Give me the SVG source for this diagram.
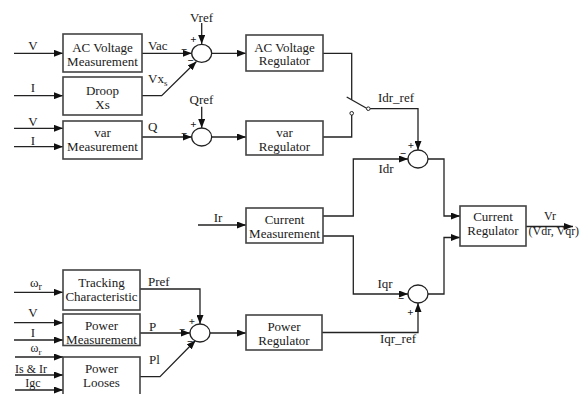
<svg xmlns="http://www.w3.org/2000/svg" width="584" height="394" viewBox="0 0 584 394">
<defs>
<marker id="ah" markerUnits="userSpaceOnUse" markerWidth="9" markerHeight="7" refX="9" refY="3.5" orient="auto">
<path d="M0,0 L9,3.5 L0,7 z" fill="#111"/>
</marker>
<style>
.box{fill:#fff;stroke:#444;stroke-width:1.6}
.ln{fill:none;stroke:#222;stroke-width:1.3}
.ar{fill:none;stroke:#222;stroke-width:1.3;marker-end:url(#ah)}
.sum{fill:#fff;stroke:#222;stroke-width:1.3}
.term{fill:#fff;stroke:#222;stroke-width:1}
text{font-family:"Liberation Serif","Times New Roman",serif;font-size:13px;fill:#1a1a1a}
.c{text-anchor:middle}
.s{font-size:12px}
.sg{font-size:11px;font-weight:bold;text-anchor:middle}
</style>
</defs>
<rect width="584" height="394" fill="#fff"/>

<g id="connectors">
<path class="ar" d="M14,53.3 H63"/>
<path class="ar" d="M14,95.7 H63"/>
<path class="ar" d="M14,128.3 H63"/>
<path class="ar" d="M14,146.7 H63"/>
<path class="ar" d="M14,292.3 H63"/>
<path class="ar" d="M14,322.7 H63"/>
<path class="ar" d="M14,340 H63"/>
<path class="ar" d="M15,357 H63"/>
<path class="ar" d="M15,375 H63"/>
<path class="ar" d="M15,390 H63"/>
<path class="ar" d="M142,53.3 H191.7"/>
<path class="ar" d="M142,95.7 H161.7 L196.5,61.5"/>
<path class="ar" d="M201.7,23 V44"/>
<path class="ar" d="M211.7,53.3 H246"/>
<path class="ln" d="M323,53.3 H351.7 V99.8"/>
<path class="ln" d="M346.7,97 L366.6,108.2"/>
<path class="ln" d="M351.7,115.1 V137 H323"/>
<path class="ar" d="M370.1,108.7 H418 V150"/>
<path class="ar" d="M142,137 H191.7"/>
<path class="ar" d="M201.7,106.7 V128"/>
<path class="ar" d="M211.7,137 H246"/>
<path class="ar" d="M198,225 H246"/>
<path class="ar" d="M323,216 H353.3 V159 H408"/>
<path class="ar" d="M323,236 H353.3 V294 H408"/>
<path class="ar" d="M428,159 H444 V216 H460"/>
<path class="ar" d="M428,294 H444 V237.5 H460"/>
<path class="ar" d="M526,226.5 H573"/>
<path class="ar" d="M140,289 H200 V324"/>
<path class="ar" d="M140,333 H190"/>
<path class="ar" d="M140,376.7 H160 L195.5,340.5"/>
<path class="ar" d="M210,333 H246"/>
<path class="ar" d="M322,332.5 H418 V303"/>
</g>

<g id="switch">
<circle class="term" cx="368.3" cy="108.7" r="1.8"/>
<circle class="term" cx="351.7" cy="113.3" r="1.8"/>
</g>

<g id="ac-voltage-measurement">
<rect class="box" x="63" y="34" width="79" height="38"/>
<text class="c" x="102.5" y="51.5">AC Voltage</text>
<text class="c" x="102.5" y="65.5">Measurement</text>
</g>
<g id="droop">
<rect class="box" x="63" y="77" width="79" height="38"/>
<text class="c" x="102.5" y="94.5">Droop</text>
<text class="c" x="102.5" y="108.5">Xs</text>
</g>
<g id="var-measurement">
<rect class="box" x="63" y="121" width="79" height="38"/>
<text class="c" x="102.5" y="137">var</text>
<text class="c" x="102.5" y="151">Measurement</text>
</g>
<g id="ac-voltage-regulator">
<rect class="box" x="246" y="35" width="77" height="36"/>
<text class="c" x="284.5" y="51.5">AC Voltage</text>
<text class="c" x="284.5" y="65">Regulator</text>
</g>
<g id="var-regulator">
<rect class="box" x="246" y="121" width="77" height="34"/>
<text class="c" x="284.5" y="137">var</text>
<text class="c" x="284.5" y="151">Regulator</text>
</g>
<g id="current-measurement">
<rect class="box" x="246" y="208" width="77" height="35"/>
<text class="c" x="284.5" y="223.5">Current</text>
<text class="c" x="284.5" y="237.5">Measurement</text>
</g>
<g id="current-regulator">
<rect class="box" x="460" y="206" width="66" height="40"/>
<text class="c" x="493" y="220.5">Current</text>
<text class="c" x="493" y="235">Regulator</text>
</g>
<g id="power-regulator">
<rect class="box" x="246" y="315" width="76" height="35"/>
<text class="c" x="284" y="330.5">Power</text>
<text class="c" x="284" y="345">Regulator</text>
</g>
<g id="tracking-characteristic">
<rect class="box" x="63" y="270" width="77" height="40"/>
<text class="c" x="101.5" y="287.3">Tracking</text>
<text class="c" x="101.5" y="301">Characteristic</text>
</g>
<g id="power-measurement">
<rect class="box" x="63" y="314" width="77" height="31.5"/>
<text class="c" x="101.5" y="329.5">Power</text>
<text class="c" x="101.5" y="343.5">Measurement</text>
</g>
<g id="power-looses">
<rect class="box" x="63" y="357" width="77" height="42"/>
<text class="c" x="101.5" y="372.5">Power</text>
<text class="c" x="101.5" y="387">Looses</text>
</g>

<g id="sum-vac">
<ellipse class="sum" cx="201.7" cy="53.3" rx="10" ry="9"/>
<text class="sg" x="193.5" y="43">+</text>
<text class="sg" x="184" y="53">−</text>
<text class="sg" x="190.5" y="64">−</text>
</g>
<g id="sum-q">
<ellipse class="sum" cx="201.7" cy="137" rx="10" ry="9"/>
<text class="sg" x="193.5" y="128">+</text>
<text class="sg" x="184" y="137">−</text>
</g>
<g id="sum-idr">
<ellipse class="sum" cx="418" cy="159" rx="10" ry="9"/>
<text class="sg" x="411" y="149">+</text>
<text class="sg" x="403" y="157">−</text>
</g>
<g id="sum-iqr">
<ellipse class="sum" cx="418" cy="294" rx="10" ry="9"/>
<text class="sg" x="401" y="302">−</text>
<text class="sg" x="410.5" y="315.5">+</text>
</g>
<g id="sum-p">
<ellipse class="sum" cx="200" cy="333" rx="10" ry="9"/>
<text class="sg" x="192" y="324.5">+</text>
<text class="sg" x="182" y="333">−</text>
<text class="sg" x="190" y="344.5">−</text>
</g>

<g id="labels">
<text class="c" x="33" y="50">V</text>
<text class="c" x="33" y="92">I</text>
<text class="c" x="33" y="126">V</text>
<text class="c" x="33" y="145">I</text>
<text class="c" x="36" y="286.5">ω<tspan font-size="10" dy="3">r</tspan></text>
<text class="c" x="33" y="317.3">V</text>
<text class="c" x="33" y="337.3">I</text>
<text class="c s" x="36" y="352">ω<tspan font-size="9" dy="2.5">r</tspan></text>
<text class="c s" x="31" y="373">Is &amp; Ir</text>
<text class="c s" x="33" y="387">Igc</text>
<text x="148" y="50">Vac</text>
<text x="148" y="83">Vx<tspan font-size="9" dy="3">s</tspan></text>
<text x="148" y="131">Q</text>
<text class="c" x="201.5" y="21.7">Vref</text>
<text class="c" x="201.5" y="104">Qref</text>
<text class="c" x="396" y="101.5">Idr_ref</text>
<text class="c" x="218" y="221.7">Ir</text>
<text class="c" x="386" y="173">Idr</text>
<text class="c" x="385" y="288">Iqr</text>
<text class="c" x="398" y="343">Iqr_ref</text>
<text class="c s" x="550" y="220">Vr</text>
<text class="s" x="528.5" y="234.5">(Vdr, Vqr)</text>
<text x="148" y="286">Pref</text>
<text x="149" y="330.7">P</text>
<text x="149" y="364">Pl</text>
</g>
</svg>
